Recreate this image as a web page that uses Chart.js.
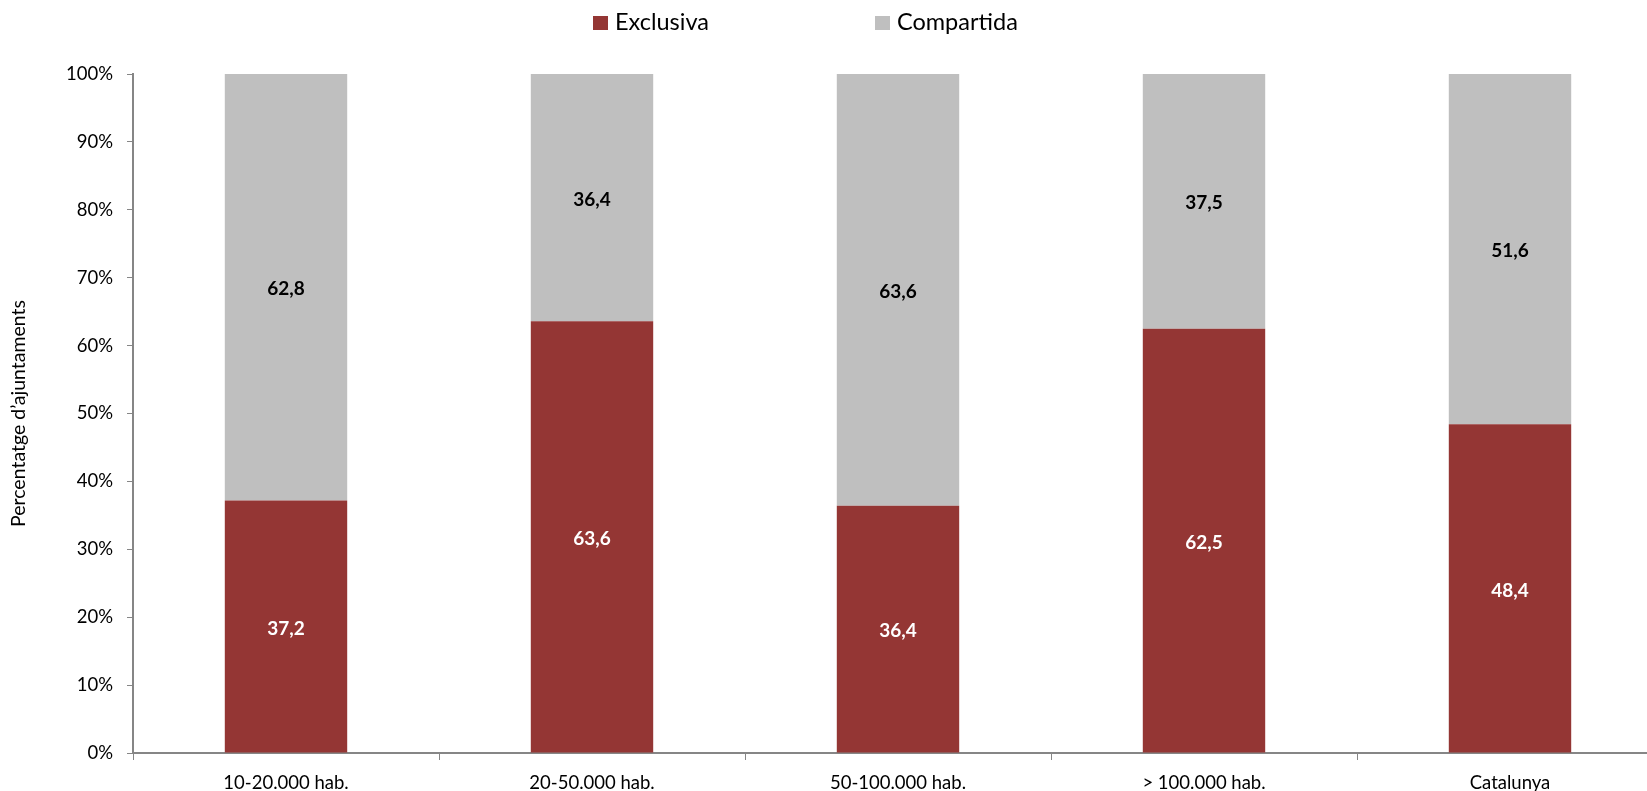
<!DOCTYPE html>
<html>
<head>
<meta charset="utf-8">
<script src="https://cdn.jsdelivr.net/npm/chart.js@4"></script>
<style>
  html, body { margin: 0; padding: 0; overflow: hidden; background: #fff; }
  #wrap { position: relative; width: 1663px; height: 800px; }
  #legend { position: absolute; top: 7px; left: 0; font-family: Lato, sans-serif; font-size: 23.5px; color: #000; }
  .item { position: absolute; top: 0; white-space: nowrap; line-height: 28px; }
  .box { display: inline-block; width: 15px; height: 14px; margin-right: 7px; vertical-align: 0px; }
</style>
</head>
<body>
<div id="wrap">
  <canvas id="barChart" width="1663" height="800"></canvas>
  <div id="legend">
    <span class="item" style="left:593px"><span class="box" style="background:#943634"></span>Exclusiva</span>
    <span class="item" style="left:875px"><span class="box" style="background:#BFBFBF"></span>Compartida</span>
  </div>
</div>
<script>
  'use strict'

  var categories = ['10-20.000 hab.', '20-50.000 hab.', '50-100.000 hab.', '> 100.000 hab.', 'Catalunya']
  var exclusiva = [37.2, 63.6, 36.4, 62.5, 48.4]
  var compartida = [62.8, 36.4, 63.6, 37.5, 51.6]
  var yTicks = [0, 10, 20, 30, 40, 50, 60, 70, 80, 90, 100]

  var axisColor = '#868686'

  // values printed in the middle of each segment
  var barLabels = {
    id: 'barLabels',
    afterDatasetsDraw: function (chart) {
      var ctx = chart.ctx
      ctx.save()
      ctx.font = 'bold 19px Lato, sans-serif'
      ctx.textAlign = 'center'
      ctx.textBaseline = 'middle'
      chart.data.datasets.forEach(function (ds, i) {
        var meta = chart.getDatasetMeta(i)
        meta.data.forEach(function (bar, j) {
          var c = bar.getCenterPoint()
          ctx.fillStyle = ds.labelColor
          ctx.fillText(ds.data[j].toFixed(1).replace('.', ','), c.x, c.y + 2)
        })
      })
      ctx.restore()
    }
  }

  var barChartCanvas = document.getElementById('barChart').getContext('2d')

  new Chart(barChartCanvas, {
    type: 'bar',
    data: {
      labels: categories,
      datasets: [{
        label: 'Exclusiva',
        data: exclusiva,
        backgroundColor: '#943634',
        labelColor: '#ffffff',
        barPercentage: 0.8,
        categoryPercentage: 0.5
      }, {
        label: 'Compartida',
        data: compartida,
        backgroundColor: '#BFBFBF',
        labelColor: '#000000',
        barPercentage: 0.8,
        categoryPercentage: 0.5
      }]
    },
    options: {
      responsive: false,
      animation: false,
      layout: { padding: { top: 74, left: 0, right: 0, bottom: 0 } },
      plugins: {
        legend: { display: false },
        tooltip: { enabled: false }
      },
      scales: {
        x: {
          stacked: true,
          grid: { drawOnChartArea: false, color: axisColor, tickLength: 7, offset: true },
          border: { color: axisColor, width: 2 },
          ticks: { color: '#000', font: { family: 'Lato', size: 18.5 }, padding: 12, maxRotation: 0 },
          afterFit: function (s) { s.height = 47 }
        },
        y: {
          stacked: true,
          min: 0,
          max: 100,
          afterBuildTicks: function (s) { s.ticks = yTicks.map(function (v) { return { value: v } }) },
          grid: { drawOnChartArea: false, color: axisColor, tickLength: 6 },
          border: { color: axisColor, width: 2 },
          ticks: {
            color: '#000',
            font: { family: 'Lato', size: 18.5 },
            padding: 14,
            callback: function (v) { return v + '%' }
          },
          title: {
            display: true,
            text: 'Percentatge d\u2019ajuntaments',
            color: '#000',
            font: { family: 'Lato', size: 19.5 },
            padding: { top: 7, bottom: 4 }
          },
          afterFit: function (s) { s.width = 133 }
        }
      }
    },
    plugins: [barLabels]
  })
</script>
</body>
</html>
